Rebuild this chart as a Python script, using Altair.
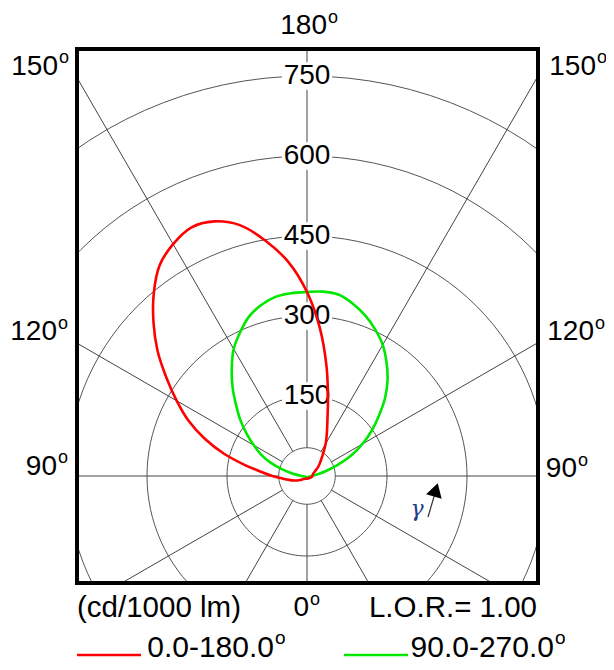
import altair as alt
import pandas as pd
import numpy as np

# ---------------- data ----------------
# signed gamma: + = right half-plane, - = left half-plane ; intensities in cd/1000 lm
red_gamma = [0, 10, 20, 30, 40, 50, 60, 70, 80, 90, 100, 110, 120, 130, 140, 150, 155, 160, 165, 170, 175, 180,
             -175, -170, -165, -160, -155, -150, -145, -140, -135, -130, -125, -120, -115, -110, -105,
             -100, -95, -90, -85, -80, -70, -60, -50, -40, -30, -20, -10, 0]
red_int = [5, 5, 5, 5, 5, 6, 7, 8, 9, 10, 11, 12, 17, 28, 42, 70, 88, 112, 152, 210, 278, 345,
           403, 448, 487, 508, 514, 502, 482, 447, 407, 366, 322, 282, 245, 204, 161,
           118, 85, 65, 48, 38, 25, 15, 9, 7, 6, 5, 5, 5]

green_gamma = [0, 30, 60, 80, 90, 100, 105, 110, 115, 120, 125, 130, 135, 140, 145, 150, 155, 160, 165, 170, 175, 180,
               -175, -170, -165, -160, -155, -150, -145, -140, -135, -130, -125, -120, -115, -110, -105,
               -100, -90, -80, -60, -30, 0]
green_int = [3, 3, 3, 5, 9, 22, 38, 62, 92, 120, 148, 176, 207, 235, 260, 284, 303, 320, 334, 345, 347, 345,
             344, 341, 332, 318, 297, 275, 246, 217, 188, 163, 138, 115, 95, 72, 48,
             28, 10, 5, 3, 3, 3]

ring_values = [150, 300, 450, 600, 750]
inner_ring = 53
ray_angles = list(range(0, 360, 30))

# angle labels (number text, position in cd units)
ang_text = ["180", "150", "150", "120", "120", "90", "90", "0"]
ang_x = [37.5, -466.9, 541.9, -468.8, 538.1, -468.8, 506.3, 3.8]
ang_y = [843.0, 766.9, 766.9, 270.0, 270.0, 16.9, 13.1, -247.5]

# ---------------- scales ----------------
K = 400 / 750
W, H = 461, 534
xs = alt.Scale(domain=[-230 / K, 231 / K], nice=False, zero=False)
ys = alt.Scale(domain=[-107 / K, 427 / K], nice=False, zero=False)
FONT = "Liberation Sans"


def X(f, **kw):
    return alt.X(f, type="quantitative", scale=xs, axis=None, **kw)


def Y(f, **kw):
    return alt.Y(f, type="quantitative", scale=ys, axis=None, **kw)


# ---------------- grid ----------------
circ_rows = []
for r in [inner_ring] + ring_values:
    for a in range(0, 361, 3):
        circ_rows.append({"r": r, "a": a})
circ_df = pd.DataFrame(circ_rows)

circles = alt.Chart(circ_df).transform_calculate(
    cx="datum.r*sin(datum.a*PI/180)", cy="datum.r*cos(datum.a*PI/180)"
).mark_line(clip=True, stroke="#555555", strokeWidth=1).encode(
    x=X("cx:Q"), y=Y("cy:Q"), detail="r:N", order="a:Q"
)

rays = alt.Chart(pd.DataFrame({"a": ray_angles})).transform_calculate(
    x1=f"{inner_ring}*sin(datum.a*PI/180)", y1=f"-{inner_ring}*cos(datum.a*PI/180)",
    x2="1400*sin(datum.a*PI/180)", y2="-1400*cos(datum.a*PI/180)"
).mark_rule(clip=True, stroke="#444444", strokeWidth=1).encode(
    x=X("x1:Q"), y=Y("y1:Q"), x2="x2:Q", y2="y2:Q"
)

ring_df = pd.DataFrame({"r": ring_values, "lab": [str(v) for v in ring_values]})
ring_bg = alt.Chart(ring_df).transform_calculate(
    xa="-47", xb="47", ya="datum.r-26", yb="datum.r+26"
).mark_rect(fill="white").encode(
    x=X("xa:Q"), x2="xb:Q", y=Y("ya:Q"), y2="yb:Q"
)
ring_lab = alt.Chart(ring_df).transform_calculate(zero="0").mark_text(
    font=FONT, fontSize=28, color="black", baseline="middle", align="center"
).encode(x=X("zero:Q"), y=Y("r:Q"), text="lab:N")

# ---------------- curves ----------------
red_df = pd.DataFrame({"g": red_gamma, "I": red_int, "i": range(len(red_gamma))})
green_df = pd.DataFrame({"g": green_gamma, "I": green_int, "i": range(len(green_gamma))})


def curve(df, color):
    return alt.Chart(df).transform_calculate(
        px="datum.I*sin(datum.g*PI/180)", py="-datum.I*cos(datum.g*PI/180)"
    ).mark_line(clip=True, color=color, strokeWidth=2.6, interpolate="catmull-rom").encode(
        x=X("px:Q"), y=Y("py:Q"), order="i:Q"
    )


red_line = curve(red_df, "#ff0000")
green_line = curve(green_df, "#00e800")

# ---------------- outside labels ----------------
ang_df = pd.DataFrame({"t": ang_text, "x": ang_x, "y": ang_y})
ang_num = alt.Chart(ang_df).mark_text(font=FONT, fontSize=28, align="right", baseline="middle").encode(
    x=X("x:Q"), y=Y("y:Q"), text="t:N")
ang_deg = alt.Chart(ang_df).mark_text(font=FONT, fontSize=18, align="left", baseline="middle", dx=1, dy=-8.5).encode(
    x=X("x:Q"), y=Y("y:Q"), text=alt.value("o"))

bottom_df = pd.DataFrame({"t": ["(cd/1000 lm)"], "x": [-431.25], "y": [-247.5]})
bottom_l = alt.Chart(bottom_df).mark_text(font=FONT, fontSize=29.5, align="left", baseline="middle").encode(
    x=X("x:Q"), y=Y("y:Q"), text="t:N")
lor_df = pd.DataFrame({"t": ["L.O.R.= 1.00"], "x": [431.25], "y": [-247.5]})
bottom_r = alt.Chart(lor_df).mark_text(font=FONT, fontSize=29.5, align="right", baseline="middle").encode(
    x=X("x:Q"), y=Y("y:Q"), text="t:N")

# legend
leg_names = ["0.0-180.0", "90.0-270.0"]
leg_colors = ["#ff0000", "#00e800"]
leg_df = pd.DataFrame({
    "t": leg_names, "c": leg_colors,
    "lx1": [-431.25, 69.4], "lx2": [-311.25, 189.4], "ly": [-335.6, -335.6],
    "tx": [-61.9, 463.1], "ty": [-322.3, -322.3],
})
leg_lines = alt.Chart(leg_df).mark_rule(strokeWidth=2.6).encode(
    x=X("lx1:Q"), x2="lx2:Q", y=Y("ly:Q"), color=alt.Color("c:N", scale=None))
leg_text = alt.Chart(leg_df).mark_text(font=FONT, fontSize=30, align="right", baseline="middle").encode(
    x=X("tx:Q"), y=Y("ty:Q"), text="t:N")
leg_deg = alt.Chart(leg_df).mark_text(font=FONT, fontSize=19, align="left", baseline="middle", dx=1, dy=-10).encode(
    x=X("tx:Q"), y=Y("ty:Q"), text=alt.value("o"))

# gamma arrow
arr_df = pd.DataFrame({"x1": [226.9], "y1": [-76.9], "x2": [238.5], "y2": [-37.5],
                       "hx": [241.5], "hy": [-26.0], "gx": [206.3], "gy": [-61.0]})
arr_shaft = alt.Chart(arr_df).mark_rule(color="#333333", strokeWidth=1.2).encode(
    x=X("x1:Q"), y=Y("y1:Q"), x2="x2:Q", y2="y2:Q")
arr_head = alt.Chart(arr_df).mark_point(shape="triangle-up", filled=True, color="black", size=260,
                                        angle=16, opacity=1).encode(x=X("hx:Q"), y=Y("hy:Q"))
gamma_t = alt.Chart(arr_df).mark_text(font="DejaVu Serif", fontSize=22, fontStyle="italic",
                                      color="#1f3c8c", baseline="middle", align="center").encode(
    x=X("gx:Q"), y=Y("gy:Q"), text=alt.value("γ"))

# plot frame
frame = alt.Chart(pd.DataFrame({"f": [0]})).mark_rect(
    fillOpacity=0, stroke="black", strokeWidth=4
).encode(x=alt.value(0), x2=alt.value(W), y=alt.value(0), y2=alt.value(H))

chart = alt.layer(
    circles, rays, ring_bg, ring_lab, green_line, red_line,
    ang_num, ang_deg, bottom_l, bottom_r, leg_lines, leg_text, leg_deg,
    arr_shaft, arr_head, gamma_t, frame
).properties(
    width=W, height=H,
    autosize=alt.AutoSizeParams(type="none"),
    padding={"left": 69, "top": 41, "right": 68, "bottom": 79},
).configure_view(
    stroke="black", strokeWidth=4, fill="white"
).configure(background="white")

chart.save("out.html", embed_options={"renderer": "svg", "actions": False})
